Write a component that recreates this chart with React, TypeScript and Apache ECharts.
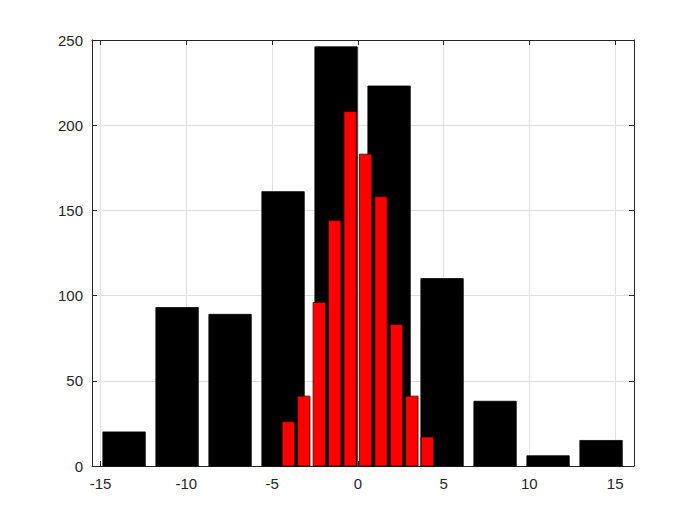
import React, { useEffect, useRef } from "react";
import * as echarts from "echarts";

// Wide histogram (black)
const blackCenters = [-13.63, -10.54, -7.45, -4.36, -1.27, 1.82, 4.91, 8.0, 11.09, 14.18];
const blackCounts = [20, 93, 89, 161, 246, 223, 110, 38, 6, 15];
// Narrow histogram (red)
const redCenters = [-4.05, -3.15, -2.25, -1.35, -0.45, 0.45, 1.35, 2.25, 3.15, 4.05];
const redCounts = [26, 41, 96, 144, 208, 183, 158, 83, 41, 17];

const xMin = -15.5;
const xMax = 16.1;
const yTicks = [0, 50, 100, 150, 200, 250];
const BAR_FRACTION = 0.8;

const FONT = "'Liberation Sans', Arial, Helvetica, sans-serif";
const AXIS_COLOR = "#262626";
const GRID_COLOR = "#e0e0e0";

function makeData(centers: number[], counts: number[]) {
  const binW = (centers[centers.length - 1] - centers[0]) / (centers.length - 1);
  return centers.map((c, i) => [c, counts[i], binW * BAR_FRACTION]);
}

function barRender(fill: string, stroke: string) {
  return (params: any, api: any) => {
    const c = api.value(0);
    const v = api.value(1);
    const w = api.value(2);
    const p0 = api.coord([c - w / 2, v]);
    const p1 = api.coord([c + w / 2, 0]);
    return {
      type: "rect",
      shape: { x: p0[0], y: p0[1], width: p1[0] - p0[0], height: p1[1] - p0[1] },
      style: { fill, stroke, lineWidth: 0.8 },
    };
  };
}

export default function App() {
  const ref = useRef<HTMLDivElement>(null);

  useEffect(() => {
    if (!ref.current) return;
    const chart = echarts.init(ref.current, null, { renderer: "svg" });
    const axisCommon = {
      axisLine: { show: true, onZero: false, lineStyle: { color: AXIS_COLOR, width: 1 } },
      axisTick: { show: true, inside: true, length: 5, lineStyle: { color: AXIS_COLOR } },
    };
    chart.setOption({
      animation: false,
      backgroundColor: "#ffffff",
      grid: { left: 92, right: 66, top: 40, bottom: 59, containLabel: false },
      xAxis: [
        {
          type: "value",
          min: xMin,
          max: xMax,
          splitNumber: 6,
          position: "bottom",
          ...axisCommon,
          axisLabel: {
            show: true,
            showMinLabel: false,
            showMaxLabel: false,
            color: AXIS_COLOR,
            fontFamily: FONT,
            fontSize: 15,
            margin: 10,
          },
          splitLine: { show: true, lineStyle: { color: GRID_COLOR, width: 1 } },
        },
        {
          type: "value",
          min: xMin,
          max: xMax,
          splitNumber: 6,
          position: "top",
          ...axisCommon,
          axisLabel: { show: false },
          splitLine: { show: false },
        },
      ],
      yAxis: [
        {
          type: "value",
          min: yTicks[0],
          max: yTicks[yTicks.length - 1],
          interval: 50,
          position: "left",
          ...axisCommon,
          axisLabel: {
            show: true,
            color: AXIS_COLOR,
            fontFamily: FONT,
            fontSize: 15,
            margin: 9,
          },
          splitLine: { show: true, lineStyle: { color: GRID_COLOR, width: 1 } },
        },
        {
          type: "value",
          min: yTicks[0],
          max: yTicks[yTicks.length - 1],
          interval: 50,
          position: "right",
          ...axisCommon,
          axisLabel: { show: false },
          splitLine: { show: false },
        },
      ],
      series: [
        {
          type: "custom",
          name: "black",
          xAxisIndex: 0,
          yAxisIndex: 0,
          renderItem: barRender("#000000", "#000000"),
          encode: { x: 0, y: 1 },
          data: makeData(blackCenters, blackCounts),
          z: 3,
        },
        {
          type: "custom",
          name: "red",
          xAxisIndex: 0,
          yAxisIndex: 0,
          renderItem: barRender("#ff0000", "#3a0000"),
          encode: { x: 0, y: 1 },
          data: makeData(redCenters, redCounts),
          z: 4,
        },
      ],
    });
    return () => chart.dispose();
  }, []);

  return <div ref={ref} style={{ width: 700, height: 525, position: "absolute", left: 0, top: 0 }} />;
}
